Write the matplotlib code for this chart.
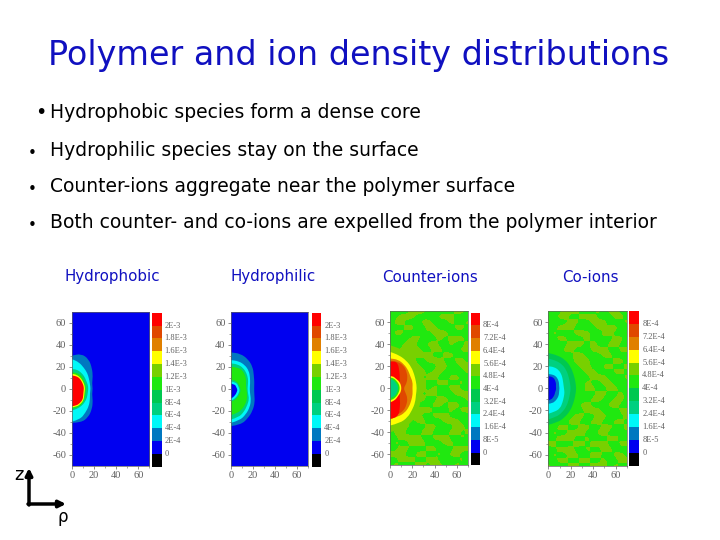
#!/usr/bin/env python3
"""Polymer and ion density maps: banded core shapes over a background field."""
import matplotlib
matplotlib.use("Agg")
import matplotlib.pyplot as plt
from matplotlib.colors import BoundaryNorm, ListedColormap
from matplotlib.patches import PathPatch, Rectangle
from matplotlib.path import Path
import numpy as np

TITLE = "Polymer and ion density distributions"
BULLETS = [
    "Hydrophobic species form a dense core",
    "Hydrophilic species stay on the surface",
    "Counter-ions aggregate near the polymer surface",
    "Both counter- and co-ions are expelled from the polymer interior",
]
PANEL_NAMES = ["Hydrophobic", "Hydrophilic", "Counter-ions", "Co-ions"]

BAND_COLORS = ["#000000", "#0000f0", "#0078c0", "#00f8f8", "#00d080", "#00c850",
               "#20e810", "#78d000", "#ffff00", "#e08000", "#e04800", "#ff0000"]

LABELS_A = ["0", "2E-4", "4E-4", "6E-4", "8E-4", "1E-3", "1.2E-3", "1.4E-3",
            "1.6E-3", "1.8E-3", "2E-3"]
LABELS_B = ["0", "8E-5", "1.6E-4", "2.4E-4", "3.2E-4", "4E-4", "4.8E-4", "5.6E-4",
            "6.4E-4", "7.2E-4", "8E-4"]

# polar angle of each radius below, -90 = straight down the z axis
ANGLES = [-90, -75, -60, -45, -30, -15, 0, 15, 30, 45, 60, 75, 90]

# (band index, outer radius at each angle), outermost band first
HYDROPHOBIC_BANDS = [
    (2, [31, 32, 30, 26, 22, 19, 19, 19, 22, 26, 31, 33, 30]),
    (3, [30, 29, 25, 22, 19, 17, 17, 17, 18, 20, 22, 25, 27]),
    (4, [20, 19, 18, 17, 16, 15, 15, 15, 15, 16, 17, 18, 18]),
    (6, [18.5, 18, 17, 15.5, 14, 13, 13, 13, 13, 14, 15, 15, 15]),
    (8, [17, 17, 16, 15, 13, 12, 12, 12, 12, 12.5, 13, 13.5, 13.5]),
    (11, [16, 16, 15, 14, 12, 11, 11, 11, 11, 11.5, 12, 12, 12]),
]
HYDROPHILIC_BANDS = [
    (2, [34, 34, 31, 28, 25, 22, 21, 22, 24, 28, 31, 33, 33]),
    (3, [31, 30, 27, 24, 21, 18, 17, 18, 20, 23, 25, 26, 26]),
    (4, [28, 27, 24, 21, 19, 16, 15, 16, 18, 20, 22, 23, 23]),
    (6, [24, 23, 21, 19, 17, 15, 14, 14, 16, 18, 20, 20, 20]),
    (4, [12, 11, 10, 9.5, 9, 9, 8.5, 8, 8, 8, 8, 8, 8]),
    (3, [11, 10, 9, 8.5, 8, 8, 7.5, 7, 7, 7, 6.5, 6.5, 6.5]),
    (1, [9, 8, 7, 6.5, 6, 6, 5.5, 5, 5, 5, 4.5, 4.5, 4.5]),
]
COUNTER_ION_BANDS = [
    (7, [40, 39, 37, 34, 31, 29, 28, 29, 30, 32, 35, 37, 39]),
    (8, [34, 33, 31, 28, 26, 24, 24, 24, 25, 27, 29, 31, 33]),
    (9, [28, 27, 26, 24, 22, 21, 20, 21, 21, 23, 25, 27, 27]),
    (10, [26, 25, 24, 21, 18, 14, 12, 15, 18, 21, 24, 25, 25]),
    (11, [28, 28, 18, 12, 10, 9, 8, 9, 10, 12, 17, 25, 24]),
    (8, [13, 12, 11, 10, 10, 10, 10, 10, 10, 10, 10, 11, 11]),
    (6, [11, 10.5, 9.5, 9, 8.5, 8.5, 8.5, 8.5, 8.5, 8.5, 9, 9.5, 9.5]),
    (4, [9, 8.5, 8, 7.5, 7, 7, 7, 7, 7, 7, 7.5, 8, 8]),
]
CO_ION_BANDS = [
    (5, [33, 32, 30, 28, 26, 25, 25, 25, 26, 28, 30, 31, 32]),
    (4, [28, 27, 25, 23, 21, 20, 20, 20, 21, 23, 25, 26, 27]),
    (3, [23, 22, 21, 18, 16, 15, 14, 14, 15, 17, 19, 20, 20]),
    (2, [14, 14, 13, 12, 11, 10, 10, 10, 11, 12, 13, 13, 13]),
    (1, [11, 10.5, 9, 8, 7, 7, 7, 7, 8, 9, 10.5, 11, 11]),
]
PANEL_BANDS = [HYDROPHOBIC_BANDS, HYDROPHILIC_BANDS, COUNTER_ION_BANDS, CO_ION_BANDS]

# background band per 5-unit node (z from 70 down to -70, rho from 0 to 70)
BLUE_FIELD = ["111111111111111"] * 29
COUNTER_FIELD = [
    "666677766666776", "667776666777666", "677666776667667", "666776677666776",
    "677666767776666", "666677666767776", "766776677667667", "667777667766677",
    "666767776677666", "666776677766776", "666677666776677", "666667767766667",
    "666667677667766", "666677766776676", "666777767667766", "666677677666777",
    "666667766776667", "666676667767766", "666677776667677", "666677667776666",
    "666767766677766", "667766677666776", "677666776667767", "667777667776676",
    "676677766677666", "667766677666777", "777667766767766", "667776677666676",
    "676667767766766",
]
CO_FIELD = [
    "666777666767766", "667766777666776", "766677667776667", "667776666767766",
    "676667776677666", "667766676766776", "666677767667766", "666776667776677",
    "666667766677666", "666667776666776", "666666776677667", "666666677666776",
    "666666667776667", "666666676677666", "666666677667766", "666666766776676",
    "666666667766776", "666666776667766", "666666677766677", "666667766776667",
    "666677667766776", "667766776677667", "676677766776676", "667776676667766",
    "776667767776677", "667776676677666", "676677667766776", "667766776676677",
    "766677667776766",
]
PANEL_FIELDS = [BLUE_FIELD, BLUE_FIELD, COUNTER_FIELD, CO_FIELD]
PANEL_LABELS = [LABELS_A, LABELS_A, LABELS_B, LABELS_B]

# pixel boxes: map (left, right, top, bottom), colour bar (left, right, top, bottom)
MAP_BOXES = [(71.7, 149.3, 311.7, 465.7), (231, 308, 311.7, 465.7),
             (390.3, 467.7, 311.3, 465), (548.3, 626.7, 311, 465.7)]
BAR_BOXES = [(151.7, 161.7, 312.7, 466.7), (311.7, 321.3, 312.7, 466.7),
             (471, 480.3, 312.7, 465.3), (629.3, 639.3, 311, 465.7)]
HEADER_X = [112, 273, 430, 590]
BULLET_X = [35, 28, 28, 28]
BULLET_Y = [113, 153, 189, 225]
BULLET_SIZE = [14, 11, 11, 11]
TEXT_Y = [113, 150, 186, 222]

W, H = 720, 540
SERIF = "Liberation Serif"
GRAY = "#606060"

plt.rcParams["axes.unicode_minus"] = False
plt.rcParams["font.family"] = "DejaVu Sans"


def px_axes(fig, box):
    left, right, top, bottom = box
    return fig.add_axes([left / W, 1 - bottom / H, (right - left) / W, (bottom - top) / H])


def band_path(radii):
    # rounded outline through the polar points, closed along the z axis
    theta = np.radians(ANGLES)
    pts = np.column_stack([np.array(radii) * np.cos(theta), np.array(radii) * np.sin(theta)])
    verts = [tuple(pts[0])]
    codes = [Path.MOVETO]
    for a, b in zip(pts[1:-1], pts[2:]):
        verts += [tuple(a), tuple((a + b) / 2)]
        codes += [Path.CURVE3, Path.CURVE3]
    verts += [tuple(pts[-1]), tuple(pts[0])]
    codes += [Path.LINETO, Path.CLOSEPOLY]
    return Path(verts, codes)


def draw_map(fig, box, field, bands):
    ax = px_axes(fig, box)
    values = np.array([[int(c, 16) for c in row] for row in field], dtype=float)
    levels = np.arange(-0.5, 12.0, 1.0)
    ax.imshow(values, extent=(-2.5, 72.5, -72.5, 72.5), origin="upper", aspect="auto",
              cmap=ListedColormap(BAND_COLORS), norm=BoundaryNorm(levels, 12),
              interpolation="bicubic", interpolation_stage="data")
    for index, radii in bands:
        ax.add_patch(PathPatch(band_path(radii), facecolor=BAND_COLORS[index], edgecolor="none"))
    ax.set_xlim(0, 70)
    ax.set_ylim(-70, 70)
    ax.set_xticks([0, 20, 40, 60])
    ax.set_xticks([10, 30, 50, 70], minor=True)
    ax.set_yticks([-60, -40, -20, 0, 20, 40, 60])
    ax.set_yticks([-50, -30, -10, 10, 30, 50], minor=True)
    ax.tick_params(which="major", length=2.5, width=0.5, pad=1.5, color=GRAY,
                   labelcolor=GRAY, labelsize=7.5)
    ax.tick_params(which="minor", length=1.5, width=0.4, color=GRAY)
    for label in ax.get_xticklabels() + ax.get_yticklabels():
        label.set_fontfamily(SERIF)
    for spine in ax.spines.values():
        spine.set_linewidth(0.5)
        spine.set_color(GRAY)


def draw_bar(fig, box, labels):
    ax = px_axes(fig, box)
    ax.axis("off")
    ax.set_xlim(0, 1)
    ax.set_ylim(0, 12)
    for i, color in enumerate(BAND_COLORS):
        ax.add_patch(Rectangle((0, i), 1, 1, facecolor=color, edgecolor="none"))
    for i, label in enumerate(labels):
        ax.text(1.3, i + 1, label, fontsize=6, family=SERIF, color=GRAY,
                ha="left", va="center", clip_on=False)


def main():
    fig = plt.figure(figsize=(W / 100, H / 100), dpi=100, facecolor="white")

    page = fig.add_axes([0, 0, 1, 1])
    page.set_xlim(0, W)
    page.set_ylim(H, 0)
    page.axis("off")

    page.text(359, 56, TITLE, fontsize=24, ha="center", va="center", color="#1010c0")
    for bx, by, bs, y, text in zip(BULLET_X, BULLET_Y, BULLET_SIZE, TEXT_Y, BULLETS):
        page.text(bx, by, "\u2022", fontsize=bs, ha="left", va="center", color="black")
        page.text(50, y, text, fontsize=13.5, ha="left", va="center", color="black")
    for x, name in zip(HEADER_X, PANEL_NAMES):
        page.text(x, 277, name, fontsize=10.8, ha="center", va="center", color="#1010c0")

    for map_box, bar_box, field, bands, labels in zip(MAP_BOXES, BAR_BOXES, PANEL_FIELDS,
                                                      PANEL_BANDS, PANEL_LABELS):
        draw_map(fig, map_box, field, bands)
        draw_bar(fig, bar_box, labels)

    # z / rho axes sketch at lower left
    page.annotate("", xy=(29, 468), xytext=(29, 505),
                  arrowprops=dict(arrowstyle="-|>", lw=2.5, color="black", shrinkA=0, shrinkB=0))
    page.annotate("", xy=(66, 504), xytext=(28, 504),
                  arrowprops=dict(arrowstyle="-|>", lw=2.5, color="black", shrinkA=0, shrinkB=0))
    page.text(19, 475, "z", fontsize=13, ha="center", va="center")
    page.text(63, 517, "\u03c1", fontsize=12, ha="center", va="center")

    fig.savefig("out.png", dpi=100)
    plt.close(fig)


if __name__ == "__main__":
    main()
